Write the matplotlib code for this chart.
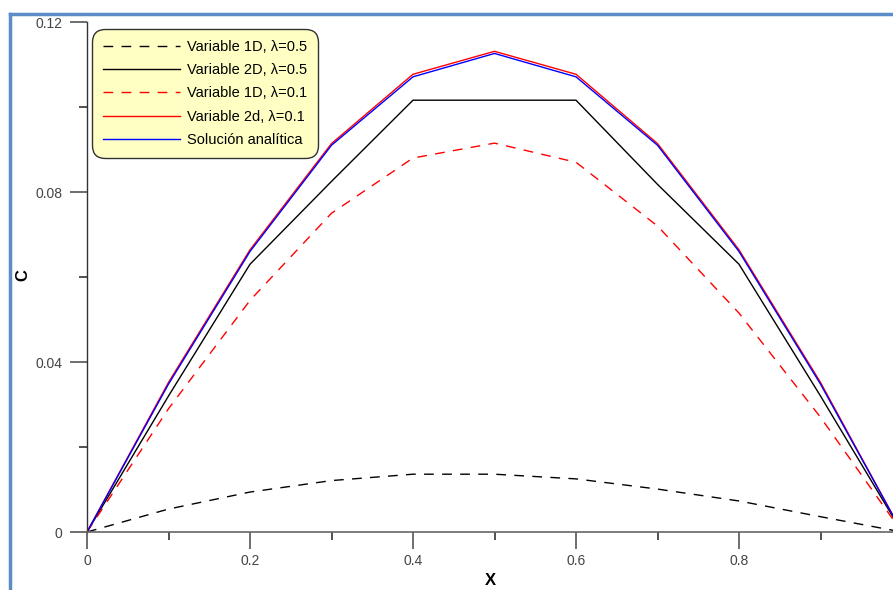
import matplotlib.pyplot as plt
from matplotlib.lines import Line2D
from matplotlib.ticker import MultipleLocator

plt.rcParams['font.family'] = ['Liberation Sans', 'DejaVu Sans']

# datos
x = [0.0, 0.1, 0.2, 0.3, 0.4, 0.5, 0.6, 0.7, 0.8, 0.9, 1.0]
var1d_05 = [0.0, 0.0054, 0.0094, 0.0121, 0.0136, 0.0136, 0.0125, 0.0101, 0.0073, 0.0036, 0.0]
var2d_05 = [0.0, 0.0320, 0.0630, 0.0825, 0.1016, 0.1016, 0.1016, 0.0818, 0.0630, 0.0320, 0.0]
var1d_01 = [0.0, 0.0290, 0.0545, 0.0750, 0.0880, 0.0915, 0.0870, 0.0720, 0.0515, 0.0270, 0.0]
var2d_01 = [0.0, 0.0352, 0.0664, 0.0914, 0.1077, 0.1131, 0.1077, 0.0914, 0.0664, 0.0352, 0.0]
analitica = [0.0, 0.0348, 0.0660, 0.0910, 0.1071, 0.1126, 0.1071, 0.0910, 0.0660, 0.0348, 0.0]

fig = plt.figure(figsize=(8.93, 5.90), dpi=100)
ax = fig.add_axes([87 / 893, 58 / 590, 815 / 893, 510 / 590])

ax.plot(x, var1d_05, color='black', lw=1, dashes=(7, 6), label='Variable 1D, λ=0.5')
ax.plot(x, var2d_05, color='black', lw=1, label='Variable 2D, λ=0.5')
ax.plot(x, var1d_01, color='red', lw=1, dashes=(7, 6), label='Variable 1D, λ=0.1')
ax.plot(x, var2d_01, color='red', lw=1, label='Variable 2d, λ=0.1')
ax.plot(x, analitica, color='blue', lw=1, label='Solución analítica')

ax.set_xlim(0, 1)
ax.set_ylim(0, 0.12)
ax.xaxis.set_minor_locator(MultipleLocator(0.1))
ax.yaxis.set_minor_locator(MultipleLocator(0.02))
ax.set_xticks([0, 0.2, 0.4, 0.6, 0.8])
ax.set_xticklabels(['0', '0.2', '0.4', '0.6', '0.8'])
ax.set_yticks([0, 0.04, 0.08, 0.12])
ax.set_yticklabels(['0', '0.04', '0.08', '0.12'])

for s in ['top', 'right']:
    ax.spines[s].set_visible(False)
ax.spines['bottom'].set_color('#666666')
ax.spines['bottom'].set_linewidth(1.2)
ax.spines['left'].set_color('#333333')
ax.spines['left'].set_linewidth(1)

ax.tick_params(which='major', length=12, width=1.2, color='#555555',
               labelsize=10, labelcolor='#444444')
ax.tick_params(which='minor', length=6, width=1.2, color='#333333')
ax.tick_params(axis='y', pad=6)
ax.tick_params(axis='x', pad=4)

ax.set_xlabel('X', fontsize=12, fontweight='bold')
ax.set_ylabel('C', fontsize=12, fontweight='bold')
ax.xaxis.set_label_coords((490 - 87) / 815, -0.08)
ax.yaxis.set_label_coords((30 - 87) / 815, (532 - 275) / 510)

leg = ax.legend(loc='upper left', bbox_to_anchor=(0.006, 0.986), borderaxespad=0,
                fontsize=10.5, handlelength=5.3, labelspacing=0.63, frameon=True,
                fancybox=True, handletextpad=0.45, borderpad=0.75)
frame = leg.get_frame()
frame.set_facecolor('#ffffc4')
frame.set_edgecolor('#333333')
frame.set_alpha(1)
frame.set_linewidth(1)
frame.set_boxstyle('round', pad=0, rounding_size=0.9)

# marco azul de la imagen
fig.add_artist(Line2D([10 / 893, 10 / 893], [0, 1 - 14 / 590], color='#5b8cc8', lw=2.5))
fig.add_artist(Line2D([10 / 893, 1], [1 - 14 / 590, 1 - 14 / 590], color='#5b8cc8', lw=2.5))

fig.savefig('out.png', dpi=100)
